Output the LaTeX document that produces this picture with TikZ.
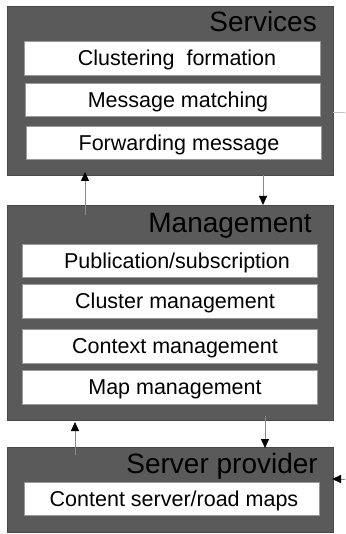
\documentclass[tikz,border=0pt]{standalone}
\usepackage{fontspec}
\setmainfont{Liberation Sans}
\usetikzlibrary{arrows.meta}
\definecolor{layer}{HTML}{5A5A5A}
\definecolor{inedge}{HTML}{9A9A9A}
\definecolor{wire}{HTML}{8A8A8A}
\tikzset{
  layerbox/.style={draw=layer!80!black, line width=0.6pt, fill=layer, minimum width=326pt, inner sep=0pt},
  itembox/.style={draw=inedge, line width=0.8pt, fill=white, minimum width=295pt, minimum height=33pt, inner sep=0pt},
  itemtext/.style={font=\fontsize{21.5pt}{24pt}\selectfont, inner sep=0pt, text height=15.4pt, text depth=0pt},
  titletext/.style={font=\fontsize{28pt}{32pt}\selectfont, inner sep=0pt, anchor=base east},
  link/.style={draw=wire, line width=0.8pt, -{Triangle[length=9pt,width=8pt,color=black]}},
  plainlink/.style={draw=inedge!60, line width=0.8pt}
}
\begin{document}
\begin{tikzpicture}[x=1pt,y=-1pt]
\useasboundingbox (0,0) rectangle (345,534);
% layers
\node[layerbox, minimum height=169pt] (services) at (170,90.5) {};
\node[layerbox, minimum height=215pt] (management) at (170,312.5) {};
\node[layerbox, minimum height=85pt] (server) at (170,489.5) {};
% titles
\node[titletext] (tS) at (317,32) {Services};
\node[titletext] (tM) at (312,233) {Management};
\node[titletext] (tP) at (318,473) {Server provider};
% services items
\node[itembox, minimum width=296pt, minimum height=34pt] (c1) at (172,58) {};
\node[itemtext] at (177,58) {Clustering\ \ formation};
\node[itembox] (c2) at (172.5,99.5) {};
\node[itemtext] at (178,99.5) {Message matching};
\node[itembox] (c3) at (173.5,142.5) {};
\node[itemtext] at (179,142.5) {Forwarding message};
% management items
\node[itembox] (m1) at (169.5,260.5) {};
\node[itemtext] at (177,260.5) {Publication/subscription};
\node[itembox, minimum height=34pt] (m2) at (169.5,301) {};
\node[itemtext] at (175,301) {Cluster management};
\node[itembox, minimum height=34pt] (m3) at (169.5,346) {};
\node[itemtext] at (175,346) {Context management};
\node[itembox, minimum height=34pt] (m4) at (169.5,387) {};
\node[itemtext] at (175,387) {Map management};
% server items
\node[itembox] (s1) at (171.5,498.5) {};
\node[itemtext] at (174,498.5) {Content server/road maps};
% connector end points
\coordinate (a1s) at (85,215);
\coordinate (a1e) at (85,172);
\coordinate (a2s) at (263,175);
\coordinate (a2e) at (263,205);
\coordinate (a3s) at (75,455);
\coordinate (a3e) at (75,422);
\coordinate (a4s) at (265,416);
\coordinate (a4e) at (265,448);
\coordinate (a5s) at (345,479);
\coordinate (a5e) at (332,479);
\coordinate (l1s) at (333,112);
\coordinate (l1e) at (345,112);
% connectors
\draw[link] (a1s) -- (a1e);
\draw[link] (a2s) -- (a2e);
\draw[link] (a3s) -- (a3e);
\draw[link] (a4s) -- (a4e);
\draw[link] (a5s) -- (a5e);
\draw[plainlink] (l1s) -- (l1e);
\end{tikzpicture}
\end{document}
